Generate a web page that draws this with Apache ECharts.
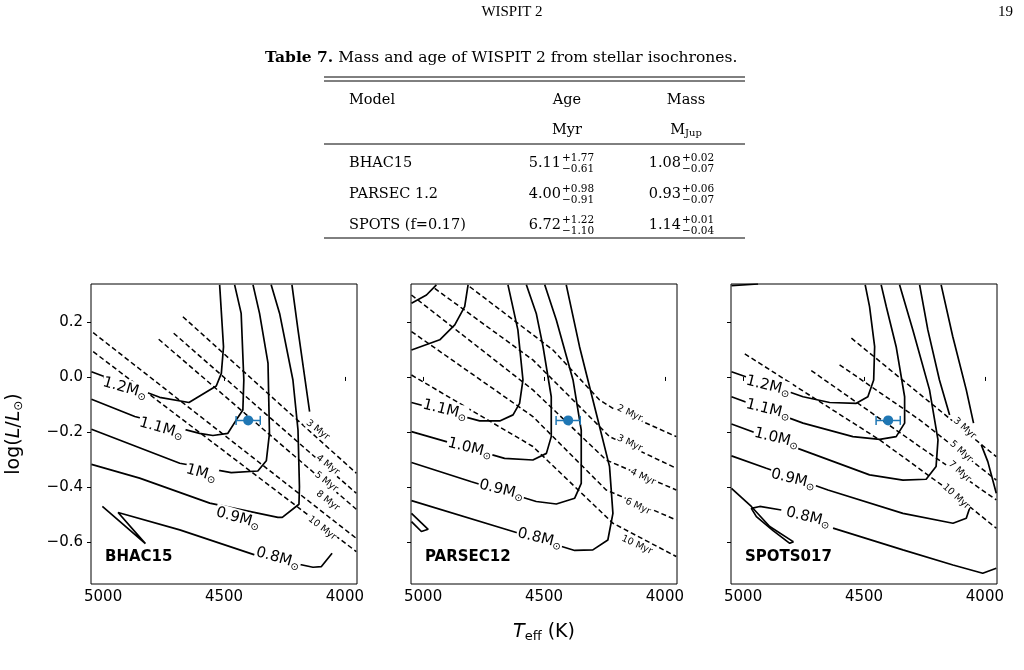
<!DOCTYPE html>
<html><head><meta charset="utf-8">
<script src="https://cdn.jsdelivr.net/npm/echarts@6/dist/echarts.min.js"></script>
<style>html,body{margin:0;padding:0;background:#fff}#c{width:1024px;height:670px}</style>
</head><body><div id="c"></div>
<script>
// ---------------- DATA ----------------
const panelNames = ['BHAC15', 'PARSEC12', 'SPOTS017'];
const xTicks = [5000, 4500, 4000];
const yTicks = [-0.6, -0.4, -0.2, 0.0, 0.2];
const star = [4400, -0.158];
const starTerr = 50;

// BHAC15 mass tracks [Teff, logL]
const bhacTracks = [
  [[5048,0.019],[4766,-0.074],[4645,-0.093],[4532,-0.033],[4511,0.013],[4502,0.110],[4518,0.335]],
  [[5048,-0.081],[4869,-0.144],[4601,-0.205],[4546,-0.213],[4484,-0.205],[4449,-0.156],[4422,-0.120],[4418,-0.011],[4429,0.231],[4456,0.335]],
  [[5048,-0.190],[4683,-0.314],[4470,-0.348],[4360,-0.342],[4325,-0.305],[4312,-0.205],[4318,0.050],[4353,0.231],[4380,0.335]],
  [[5048,-0.318],[4849,-0.368],[4559,-0.459],[4277,-0.511],[4259,-0.511],[4190,-0.463],[4188,-0.399],[4194,-0.193],[4215,-0.011],[4270,0.231],[4305,0.335]],
  [[5003,-0.471],[4825,-0.606],[4938,-0.493],[4683,-0.556],[4373,-0.647],[4132,-0.692],[4098,-0.690],[4053,-0.641]],
  [[4219,0.335],[4194,0.171],[4146,-0.126]]
];
const bhacIso = [
  [[4670,0.219],[3953,-0.350]],
  [[4708,0.159],[3953,-0.423]],
  [[4770,0.137],[3953,-0.481]],
  [[5041,0.161],[3953,-0.587]],
  [[5041,0.092],[3953,-0.635]]
];
const bhacMassLabels = [[4910,-0.041,'1.2'],[4759,-0.187,'1.1'],[4594,-0.350,'1'],[4442,-0.514,'0.9'],[4277,-0.659,'0.8']];
const bhacAgeLabels = [[4112,-0.193,'3'],[4071,-0.320,'4'],[4077,-0.381,'5'],[4071,-0.450,'8'],[4094,-0.550,'10']];

// PARSEC12
const parsecTracks = [
  [[5048,0.268],[4986,0.298],[4945,0.335]],
  [[5048,0.098],[4931,0.135],[4869,0.189],[4828,0.256],[4814,0.335]],
  [[5048,-0.093],[4766,-0.160],[4683,-0.160],[4628,-0.138],[4601,-0.096],[4587,-0.011],[4608,0.171],[4649,0.335]],
  [[5048,-0.199],[4663,-0.296],[4546,-0.302],[4490,-0.278],[4470,-0.217],[4470,-0.072],[4504,0.110],[4532,0.231],[4573,0.335]],
  [[5048,-0.311],[4800,-0.381],[4532,-0.453],[4449,-0.462],[4373,-0.441],[4346,-0.387],[4346,-0.193],[4380,-0.011],[4449,0.207],[4497,0.335]],
  [[5048,-0.450],[4628,-0.562],[4373,-0.631],[4298,-0.629],[4236,-0.593],[4215,-0.496],[4229,-0.326],[4284,-0.132],[4353,0.110],[4408,0.335]],
  [[5048,-0.496],[4979,-0.554],[5007,-0.562],[5048,-0.526]]
];
const parsecIso = [
  [[4807,0.328],[4463,0.098],[4270,-0.084],[4215,-0.114],[3953,-0.217]],
  [[4952,0.322],[4546,0.062],[4298,-0.156],[4229,-0.217],[3953,-0.332]],
  [[5048,0.298],[4546,-0.047],[4243,-0.302],[3953,-0.411]],
  [[5048,0.165],[4546,-0.144],[4243,-0.411],[3953,-0.520]],
  [[5048,0.007],[4546,-0.253],[4215,-0.532],[3953,-0.653]]
];
const parsecMassLabels = [[4910,-0.120,'1.1'],[4807,-0.259,'1.0'],[4676,-0.411,'0.9'],[4518,-0.587,'0.8']];
const parsecAgeLabels = [[4146,-0.132,'2'],[4146,-0.241,'3'],[4091,-0.364,'4'],[4112,-0.471,'6'],[4116,-0.611,'10']];

// SPOTS017
const spotsTracks = [
  [[5048,0.332],[4938,0.338]],
  [[5048,0.019],[4752,-0.072],[4642,-0.093],[4532,-0.096],[4484,-0.072],[4460,-0.011],[4456,0.110],[4477,0.256],[4495,0.335]],
  [[5048,-0.072],[4752,-0.168],[4546,-0.217],[4435,-0.227],[4367,-0.217],[4332,-0.168],[4332,-0.072],[4367,0.110],[4408,0.256],[4429,0.335]],
  [[5048,-0.171],[4718,-0.278],[4477,-0.356],[4339,-0.375],[4243,-0.372],[4202,-0.326],[4194,-0.229],[4229,-0.047],[4298,0.171],[4353,0.335]],
  [[5048,-0.287],[4904,-0.332],[4649,-0.411],[4339,-0.496],[4132,-0.532],[4077,-0.514],[4061,-0.471]],
  [[4270,0.335],[4236,0.171],[4188,-0.011],[4146,-0.138]],
  [[4181,0.335],[4133,0.147],[4077,-0.047],[4047,-0.168]],
  [[4015,-0.247],[3988,-0.308],[3953,-0.423]],
  [[5048,-0.405],[4966,-0.471],[4890,-0.544],[4793,-0.599]],
  [[4842,-0.484],[4931,-0.471],[4966,-0.478],[4945,-0.508],[4876,-0.559],[4807,-0.605],[4791,-0.599]],
  [[4628,-0.550],[4339,-0.629],[4132,-0.684],[4009,-0.714],[3953,-0.696]]
];
const spotsIso = [
  [[4552,0.141],[3953,-0.290]],
  [[4601,0.044],[4270,-0.156],[3953,-0.375]],
  [[4718,0.023],[4270,-0.253],[3953,-0.447]],
  [[4993,0.084],[4435,-0.229],[4132,-0.423],[3953,-0.550]]
];
const spotsMassLabels = [[4897,-0.033,'1.2'],[4897,-0.118,'1.1'],[4862,-0.223,'1.0'],[4793,-0.372,'0.9'],[4731,-0.511,'0.8']];
const spotsAgeLabels = [[4084,-0.187,'3'],[4098,-0.271,'5'],[4105,-0.344,'7'],[4119,-0.435,'10']];

// table
const tableModels = ['BHAC15', 'PARSEC 1.2', 'SPOTS (f=0.17)'];
const tableAge = [['5.11','+1.77','\u22120.61'],['4.00','+0.98','\u22120.91'],['6.72','+1.22','\u22121.10']];
const tableMass = [['1.08','+0.02','\u22120.07'],['0.93','+0.06','\u22120.07'],['1.14','+0.01','\u22120.04']];

// ---------------- BUILD ----------------
const panels = [
  {tracks: bhacTracks, iso: bhacIso, ml: bhacMassLabels, al: bhacAgeLabels, mrot: -16, arot: -38},
  {tracks: parsecTracks, iso: parsecIso, ml: parsecMassLabels, al: parsecAgeLabels, mrot: -14, arot: -25},
  {tracks: spotsTracks, iso: spotsIso, ml: spotsMassLabels, al: spotsAgeLabels, mrot: -14, arot: -42}
];
const lefts = [91, 411, 731];
const grids = [], xAxes = [], yAxes = [], series = [], graphic = [];
const sans = 'DejaVu Sans', serif = 'DejaVu Serif';

panels.forEach((p, i) => {
  grids.push({left: lefts[i], top: 284, width: 266, height: 300, show: true, borderColor: '#000', borderWidth: 1, backgroundColor: 'transparent'});
  xAxes.push({gridIndex: i, type: 'value', min: 3950, max: 5050, inverse: true,
    axisLine: {show: false}, splitLine: {show: false},
    axisTick: {show: true, length: 4, lineStyle: {color: '#000'}, customValues: xTicks},
    axisLabel: {color: '#000', fontFamily: sans, fontSize: 15, margin: 6, customValues: xTicks, formatter: v => String(v)}});
  yAxes.push({gridIndex: i, type: 'value', min: -0.753, max: 0.338,
    axisLine: {show: false}, splitLine: {show: false},
    axisTick: {show: true, length: 4, lineStyle: {color: '#000'}, customValues: yTicks},
    axisLabel: {show: i === 0, color: '#000', fontFamily: sans, fontSize: 15, margin: 8,
      customValues: yTicks, formatter: v => (v < -1e-9 ? '\u2212' : '') + Math.abs(v).toFixed(1)}});
  p.iso.forEach(d => series.push({type: 'line', xAxisIndex: i, yAxisIndex: i, data: d, symbol: 'none', silent: true,
    lineStyle: {color: '#000', width: 1.5, type: [5, 3]}, z: 2}));
  p.tracks.forEach(d => series.push({type: 'line', xAxisIndex: i, yAxisIndex: i, data: d, symbol: 'none', silent: true,
    lineStyle: {color: '#000', width: 1.7}, z: 3}));
  series.push({type: 'scatter', xAxisIndex: i, yAxisIndex: i, symbolSize: 0, z: 5, silent: true,
    itemStyle: {opacity: 1},
    data: p.ml.map(m => ({value: [m[0], m[1]], name: m[2]})),
    label: {show: true, position: 'inside', rotate: p.mrot, backgroundColor: '#fff', padding: [0, 1],
      formatter: q => q.name + 'M{s|\u2299}',
      color: '#000', fontFamily: sans, fontSize: 15,
      rich: {s: {fontSize: 10, color: '#000', fontFamily: sans, padding: [8, 0, 0, 0]}}}});
  series.push({type: 'scatter', xAxisIndex: i, yAxisIndex: i, symbolSize: 0, z: 5, silent: true,
    itemStyle: {opacity: 1},
    data: p.al.map(m => ({value: [m[0], m[1]], name: m[2]})),
    label: {show: true, position: 'inside', rotate: p.arot, backgroundColor: '#fff', padding: [0, 1],
      formatter: q => q.name + ' Myr', color: '#000', fontFamily: sans, fontSize: 9.5}});
  // error bar
  series.push({type: 'line', xAxisIndex: i, yAxisIndex: i, symbol: 'rect', symbolSize: [1.5, 9], silent: true, z: 6,
    data: [[star[0] + starTerr, star[1]], [star[0] - starTerr, star[1]]],
    itemStyle: {color: '#1f77b4'}, lineStyle: {color: '#1f77b4', width: 1.5}});
  series.push({type: 'scatter', xAxisIndex: i, yAxisIndex: i, symbol: 'circle', symbolSize: 10, silent: true, z: 7,
    data: [star], itemStyle: {color: '#1f77b4', opacity: 1}});
  graphic.push({type: 'text', left: lefts[i] + 14, top: 550, z: 10,
    style: {text: panelNames[i], font: 'bold 15px "DejaVu Sans"', fill: '#000'}});
});

// axis names
graphic.push({type: 'text', x: 14, y: 434, rotation: Math.PI / 2, z: 10,
  style: {text: 'log({i|L}/{i|L}{s|\u2299})', align: 'center', verticalAlign: 'middle', font: '19px "DejaVu Sans"', fill: '#000',
    rich: {i: {font: 'italic 19px "DejaVu Sans"'}, s: {font: '12px "DejaVu Sans"', padding: [10, 0, 0, 0]}}}});
graphic.push({type: 'text', x: 544, y: 632, z: 10,
  style: {text: '{i|T}{s|eff} (K)', align: 'center', verticalAlign: 'middle', font: '19px "DejaVu Sans"', fill: '#000',
    rich: {i: {font: 'italic 19px "DejaVu Sans"'}, s: {font: '13px "DejaVu Sans"', padding: [9, 0, 0, 0]}}}});

// header
graphic.push({type: 'text', x: 512, y: 12, style: {text: 'WISPIT 2', align: 'center', verticalAlign: 'middle', font: '15px "Liberation Serif"', fill: '#000'}});
graphic.push({type: 'text', x: 1013, y: 12, style: {text: '19', align: 'right', verticalAlign: 'middle', font: '15px "Liberation Serif"', fill: '#000'}});
graphic.push({type: 'text', x: 265, y: 58, style: {text: '{b|Table 7.} Mass and age of WISPIT 2 from stellar isochrones.', verticalAlign: 'middle',
  font: '15.5px "' + serif + '"', fill: '#000', rich: {b: {font: 'bold 15.5px "' + serif + '"'}}}});
[77, 81, 144, 238].forEach(y => graphic.push({type: 'line', shape: {x1: 324, y1: y, x2: 745, y2: y}, style: {stroke: '#000', lineWidth: 1}}));
const tf = '14.5px "' + serif + '"';
graphic.push({type: 'text', x: 349, y: 100, style: {text: 'Model', verticalAlign: 'middle', font: tf, fill: '#000'}});
graphic.push({type: 'text', x: 567, y: 100, style: {text: 'Age', align: 'center', verticalAlign: 'middle', font: tf, fill: '#000'}});
graphic.push({type: 'text', x: 686, y: 100, style: {text: 'Mass', align: 'center', verticalAlign: 'middle', font: tf, fill: '#000'}});
graphic.push({type: 'text', x: 567, y: 130, style: {text: 'Myr', align: 'center', verticalAlign: 'middle', font: tf, fill: '#000'}});
graphic.push({type: 'text', x: 686, y: 130, style: {text: 'M{s|Jup}', align: 'center', verticalAlign: 'middle', font: tf, fill: '#000',
  rich: {s: {font: '10px "' + serif + '"', padding: [7, 0, 0, 0]}}}});
const rowY = [163, 194, 225];
tableModels.forEach((m, r) => {
  graphic.push({type: 'text', x: 349, y: rowY[r], style: {text: m, verticalAlign: 'middle', font: tf, fill: '#000'}});
  [[tableAge[r], 561], [tableMass[r], 681]].forEach(([v, x]) => {
    graphic.push({type: 'text', x: x, y: rowY[r], style: {text: v[0], align: 'right', verticalAlign: 'middle', font: tf, fill: '#000'}});
    graphic.push({type: 'text', x: x + 1, y: rowY[r] - 5, style: {text: v[1], verticalAlign: 'middle', font: '10.5px "' + serif + '"', fill: '#000'}});
    graphic.push({type: 'text', x: x + 1, y: rowY[r] + 6, style: {text: v[2], verticalAlign: 'middle', font: '10.5px "' + serif + '"', fill: '#000'}});
  });
});

const chart = echarts.init(document.getElementById('c'), null, {renderer: 'canvas'});
chart.setOption({animation: false, backgroundColor: '#fff', grid: grids, xAxis: xAxes, yAxis: yAxes, series: series, graphic: graphic});
</script></body></html>
